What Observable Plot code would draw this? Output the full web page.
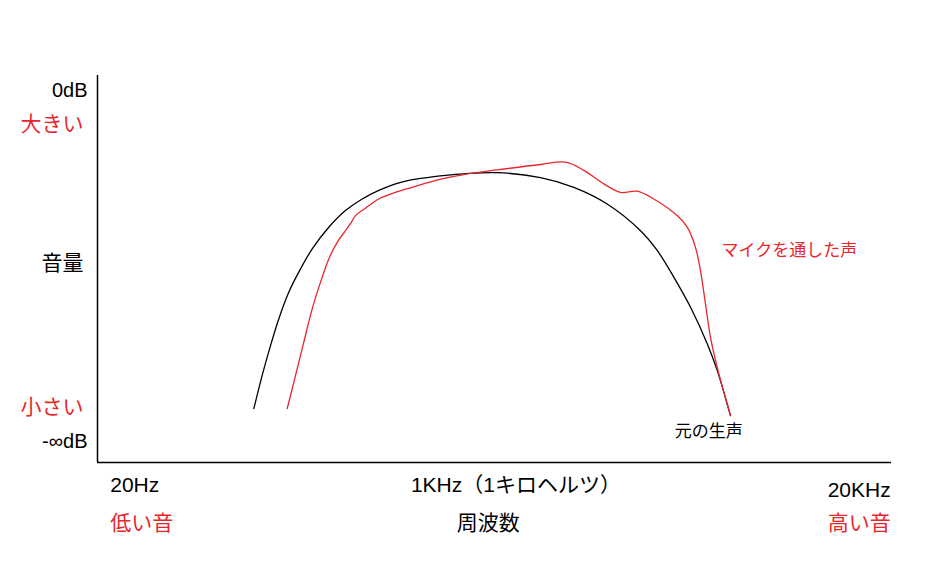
<!DOCTYPE html>
<html><head><meta charset="utf-8">
<script src="https://cdn.jsdelivr.net/npm/d3@7"></script>
<script src="https://cdn.jsdelivr.net/npm/@observablehq/plot@0.6"></script>
<style>
html,body{margin:0;padding:0;background:#fff;}
svg{display:block;}
</style>
</head><body><div id="chart"></div>
<script>
// Relative frequency position (0 = 20Hz, 100 = 20KHz) and relative volume (0 = -∞dB, 100 = 0dB)
const originalX = [19.69,20.74,21.79,22.83,24.09,25.35,27.04,29.13,31.23,33.34,35.43,37.53,39.63,41.73,43.83,46.13,50.34,55.79,59.99,64.19,68.39,70.49,72.58,74.69,76.79,78.05,79.72];
const originalY = [13.9,22.5,30.2,37.1,44.0,49.2,55.2,60.8,65.1,68.1,70.3,72.0,73.1,73.7,74.2,74.6,74.9,73.6,71.1,66.8,59.9,54.8,47.9,40.1,30.7,23.8,12.1];
const micX = [23.89,24.94,25.98,27.04,28.09,29.13,30.19,31.23,31.99,32.49,33.75,35.43,37.53,39.63,41.73,43.83,46.13,50.34,55.79,58.94,61.25,63.77,65.87,67.97,70.06,73.01,74.27,75.31,75.94,76.57,77.20,78.05,79.72];
const micY = [13.9,22.5,31.1,39.7,46.6,52.6,56.9,59.9,62.1,63.8,65.7,68.1,69.8,71.1,72.4,73.5,74.4,75.6,77.0,77.6,75.5,72.0,69.8,70.1,68.1,63.8,60.8,55.6,49.6,41.0,32.4,24.6,12.1];

const yLabels = ["0dB","大きい","音量","小さい","-∞dB"];
const yLabelPos = [96.1,87.3,51.4,14.2,5.4];
const yLabelRed = [false,true,false,true,false];
const yLabelLatin = [true,false,false,false,true];

const xLabelsTop = ["20Hz","1KHz（1キロヘルツ）","20KHz"];
const xLabelsTopPos = [1.6,52.7,99.9];
const xLabelsBottom = ["低い音","周波数","高い音"];
const xLabelsBottomPos = [1.6,49.2,99.9];
const xLabelsRed = [true,false,true];

const seriesNames = ["元の生声","マイクを通した声"];
const seriesLabelX = [72.7,78.6];
const seriesLabelY = [8.0,54.8];

const RED = "#e8262b";
const FONT = "'Liberation Sans','Noto Sans CJK JP',sans-serif";

const original = originalX.map((x,i)=>({x, y: originalY[i]}));
const mic = micX.map((x,i)=>({x, y: micY[i]}));
const yl = yLabels.map((t,i)=>({t, y: yLabelPos[i], c: yLabelRed[i] ? RED : "#000", latin: yLabelLatin[i]}));
const anchors = ["start","middle","end"];
const xt = xLabelsTop.map((t,i)=>({t, x: xLabelsTopPos[i], a: anchors[i]}));
const xb = xLabelsBottom.map((t,i)=>({t, x: xLabelsBottomPos[i], a: anchors[i], c: xLabelsRed[i] ? RED : "#000"}));

const marks = [
  Plot.ruleX([0], {stroke:"#000", strokeWidth:1.5}),
  Plot.ruleY([0], {stroke:"#000", strokeWidth:1.5}),
  Plot.line(original, {x:"x", y:"y", curve:"catmull-rom", stroke:"#000", strokeWidth:1.3}),
  Plot.line(mic, {x:"x", y:"y", curve:"catmull-rom", stroke:RED, strokeWidth:1.3}),
  Plot.text(yl.filter(d=>d.latin), {frameAnchor:"left", y:"y", text:"t", fill:"c", textAnchor:"end", lineAnchor:"middle", dx:-10, fontSize:20}),
  Plot.text(yl.filter(d=>!d.latin), {frameAnchor:"left", y:"y", text:"t", fill:"c", textAnchor:"end", lineAnchor:"middle", dx:-14, fontSize:21}),
  Plot.text([seriesNames[0]], {x:[seriesLabelX[0]], y:[seriesLabelY[0]], text:d=>d, textAnchor:"start", lineAnchor:"middle", fill:"#000", fontSize:17}),
  Plot.text([seriesNames[1]], {x:[seriesLabelX[1]], y:[seriesLabelY[1]], text:d=>d, textAnchor:"start", lineAnchor:"middle", fill:RED, fontSize:17})
];
xt.forEach((d,i)=>{
  marks.push(Plot.text([d], {x:"x", frameAnchor:"bottom", text:"t", textAnchor:d.a, lineAnchor:"middle", dy: i===2 ? 28 : 23, fill:"#000", fontSize:21}));
});
xb.forEach((d)=>{
  marks.push(Plot.text([d], {x:"x", frameAnchor:"bottom", text:"t", textAnchor:d.a, lineAnchor:"middle", dy:61, fill:d.c, fontSize:21}));
});

const chart = Plot.plot({
  width:937, height:580,
  marginLeft:97, marginRight:46, marginTop:75, marginBottom:118,
  style:{fontFamily:FONT, background:"#fff", overflow:"visible"},
  x:{domain:[0,100], axis:null},
  y:{domain:[0,100], axis:null},
  marks
});
document.getElementById("chart").append(chart);
</script>
</body></html>
